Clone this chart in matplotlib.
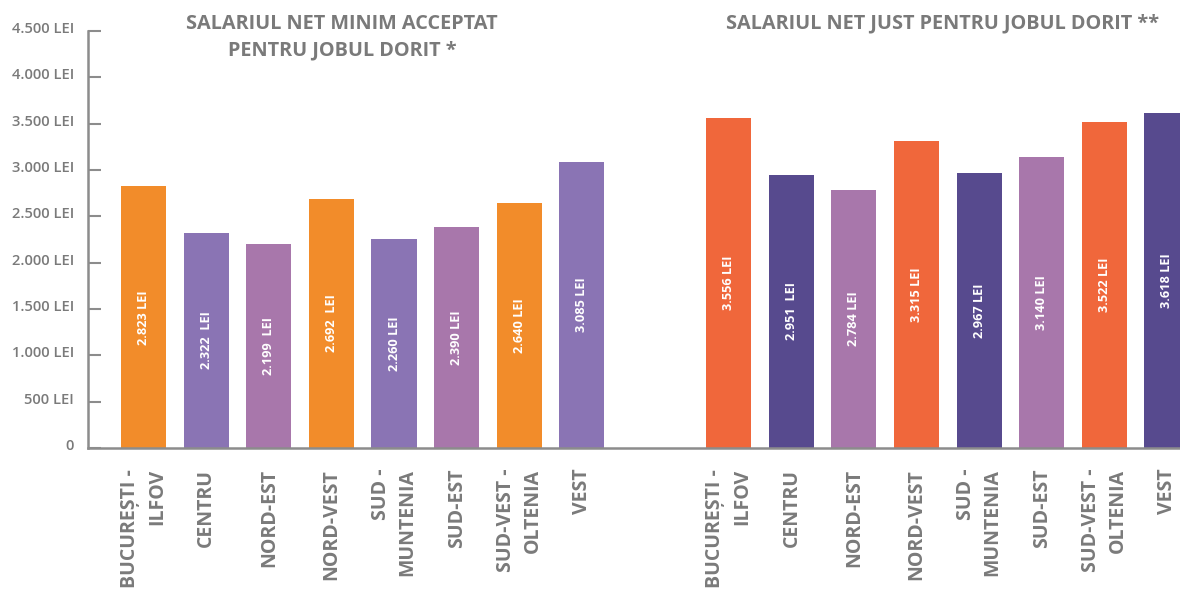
import matplotlib
matplotlib.use("Agg")
import matplotlib.pyplot as plt
import matplotlib.transforms as mtransforms
import numpy as np

# data
regions = ["BUCUREȘTI -\nILFOV", "CENTRU", "NORD-EST", "NORD-VEST",
           "SUD -\nMUNTENIA", "SUD-EST", "SUD-VEST -\nOLTENIA", "VEST"]
min_salary = [2823, 2322, 2199, 2692, 2260, 2390, 2640, 3085]
min_labels = ["2.823 LEI", "2.322  LEI", "2.199  LEI", "2.692  LEI",
              "2.260 LEI", "2.390 LEI", "2.640 LEI", "3.085 LEI"]
fair_salary = [3556, 2951, 2784, 3315, 2967, 3140, 3522, 3618]
fair_labels = ["3.556 LEI", "2.951  LEI", "2.784 LEI", "3.315 LEI",
               "2.967 LEI", "3.140 LEI", "3.522 LEI", "3.618 LEI"]
y_ticks = [0, 500, 1000, 1500, 2000, 2500, 3000, 3500, 4000, 4500]
y_tick_labels = ["0", "500 LEI", "1.000 LEI", "1.500 LEI", "2.000 LEI", "2.500 LEI",
                 "3.000 LEI", "3.500 LEI", "4.000 LEI", "4.500 LEI"]

ORANGE, LILAC, MAUVE = "#F28C2A", "#8A74B4", "#A877AB"
RED_ORANGE, DARK_PURPLE = "#F0673B", "#574A8E"
min_colors = [ORANGE, LILAC, MAUVE] * 3
fair_colors = [RED_ORANGE, DARK_PURPLE, MAUVE] * 3
GREY = "#7a7a7a"

plt.rcParams["font.family"] = ["Open Sans", "DejaVu Sans"]

fig = plt.figure(figsize=(11.8, 5.9), dpi=100)
ax = fig.add_axes([88 / 1180, 142 / 590, 1 - 88 / 1180, 417 / 590])

x_min = np.arange(len(min_salary))
x_fair = np.arange(len(fair_salary)) + 9.35
width = 0.72

ax.bar(x_min, min_salary, width=width, color=min_colors[:len(x_min)])
ax.bar(x_fair, fair_salary, width=width, color=fair_colors[:len(x_fair)])

for xs, vals, labels in [(x_min, min_salary, min_labels), (x_fair, fair_salary, fair_labels)]:
    for x, v, lab in zip(xs, vals, labels):
        ax.text(x, v / 2, lab, rotation=90, ha="center", va="center",
                color="white", fontsize=9.2, fontweight="bold")

ax.set_xlim(-0.89, 16.56)
ax.set_ylim(0, 4500)
ax.set_yticks(y_ticks)
ax.set_yticklabels(y_tick_labels)
ax.tick_params(axis="y", direction="in", length=9, width=1.5, color="#8c8c8c",
               labelsize=10.6, labelcolor=GREY, pad=10)
lift = mtransforms.ScaledTranslation(0, 0.035, fig.dpi_scale_trans)
for t in ax.get_yticklabels():
    t.set_fontweight("semibold")
    t.set_transform(t.get_transform() + lift)

ax.set_xticks(np.concatenate([x_min, x_fair]))
ax.set_xticklabels(regions + regions, rotation=90, ha="center", va="top",
                   multialignment="right", linespacing=1.45)
ax.tick_params(axis="x", length=0, pad=15, labelsize=14, labelcolor=GREY)
for t in ax.get_xticklabels():
    t.set_fontweight("bold")

for side in ["top", "right"]:
    ax.spines[side].set_visible(False)
ax.spines["left"].set_color("#8c8c8c")
ax.spines["left"].set_linewidth(1.8)
ax.spines["bottom"].set_color("#8c8c8c")
ax.spines["bottom"].set_linewidth(1.8)

fig.text(342 / 1180, 1 - 37 / 590, "SALARIUL NET MINIM ACCEPTAT\nPENTRU JOBUL DORIT *",
         ha="center", va="center", fontsize=14.3, fontweight="bold", color=GREY,
         linespacing=1.45)
fig.text(943 / 1180, 1 - 23 / 590, "SALARIUL NET JUST PENTRU JOBUL DORIT **",
         ha="center", va="center", fontsize=14.3, fontweight="bold", color=GREY)

fig.savefig("out.png", dpi=100)
